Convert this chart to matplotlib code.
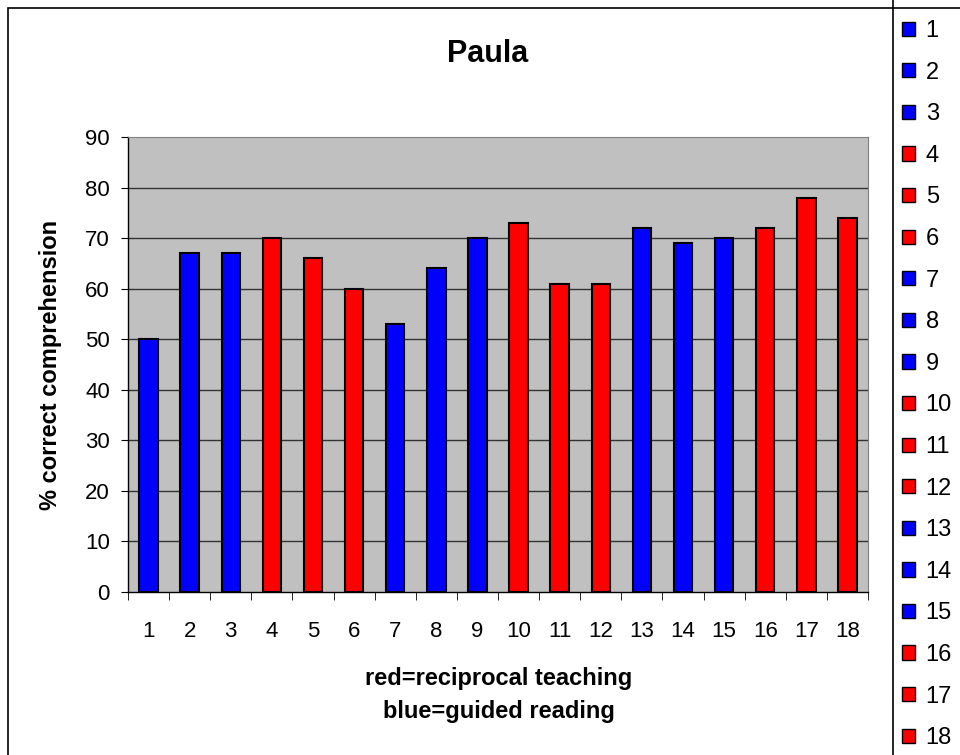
import numpy as np
import matplotlib.pyplot as plt
from matplotlib.patches import Patch, Rectangle

plt.rcParams['font.family'] = ['Liberation Sans', 'DejaVu Sans']

# Sessions and scores
sessions = [str(i) for i in range(1, 19)]
scores   = [50, 67, 67, 70, 66, 60, 53, 64, 70, 73, 61, 61, 72, 69, 70, 72, 78, 74]
method   = ['g', 'g', 'g', 'r', 'r', 'r', 'g', 'g', 'g',
            'r', 'r', 'r', 'g', 'g', 'g', 'r', 'r', 'r']
yticks   = [0, 10, 20, 30, 40, 50, 60, 70, 80, 90]

colmap = {'r': '#FF0000', 'g': '#0000FF'}
colors = [colmap[m] for m in method]

W, H = 960, 755
fig = plt.figure(figsize=(W/100., H/100.), dpi=100)

# outer chart border
fig.patches.append(Rectangle((8./W, -0.05), 1.2, (H-8.)/H + 0.05, transform=fig.transFigure,
                             fill=False, edgecolor='black', linewidth=1.2, clip_on=False))
# legend box border (runs off the page like the original)
fig.patches.append(Rectangle((893./W, -0.05), 1.2, 1.1, transform=fig.transFigure,
                             fill=False, edgecolor='black', linewidth=1.2, clip_on=False))

ax = fig.add_axes([128./W, (H-592.)/H, (868.-128.)/W, (592.-137.)/H])
ax.set_facecolor('#C0C0C0')
x = np.arange(len(sessions))
ax.bar(x, scores, width=0.45, color=colors, edgecolor='black', linewidth=1.5, zorder=3)

ax.set_ylim(0, 90)
ax.set_xlim(-0.5, len(sessions)-0.5)
ax.set_yticks(yticks)
ax.set_yticklabels([str(t) for t in yticks], fontsize=16)
for t in yticks[1:-1]:
    ax.axhline(t, color='#333333', linewidth=1.0, zorder=1)

ax.set_xticks(x)
ax.set_xticklabels(sessions, fontsize=16)
ax.set_xticks(np.arange(-0.5, len(sessions)), minor=True)
ax.tick_params(axis='x', which='major', length=0, pad=21)
ax.tick_params(axis='x', which='minor', length=6, direction='out', color='black')
ax.tick_params(axis='y', length=5, direction='out', pad=8)

for s in ['top', 'right']:
    ax.spines[s].set_color('#808080')
for s in ['left', 'bottom']:
    ax.spines[s].set_color('black')
    ax.spines[s].set_linewidth(1.0)

fig.text(488./W, 1 - 62./H, 'Paula', ha='center', va='baseline', fontsize=22, fontweight='bold')
fig.text(51./W, 1 - 365./H, '% correct comprehension', ha='center', va='center',
         rotation=90, fontsize=17, fontweight='bold')
fig.text(499./W, 1 - 685./H, 'red=reciprocal teaching', ha='center', va='baseline',
         fontsize=17, fontweight='bold')
fig.text(499./W, 1 - 718./H, 'blue=guided reading', ha='center', va='baseline',
         fontsize=17, fontweight='bold')

# legend
handles = [Patch(facecolor=c, edgecolor='black', linewidth=1.0) for c in colors]
leg = fig.legend(handles, sessions, loc='upper left', bbox_to_anchor=(902./W, 1 - 20./H),
                 borderaxespad=0, borderpad=0, fontsize=17, frameon=False,
                 handlelength=0.55, handleheight=0.55, handletextpad=0.45,
                 labelspacing=0.83)

fig.savefig('out.png', dpi=100)
